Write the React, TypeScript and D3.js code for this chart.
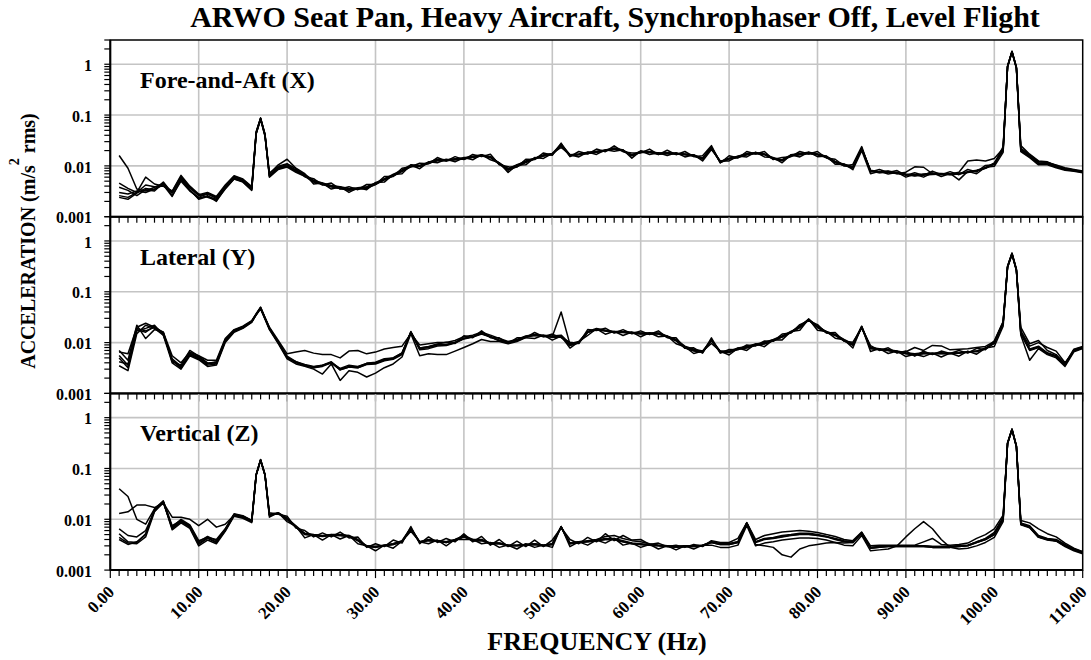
import React from "react";
import * as d3 from "d3";

// Frequency grid (Hz) shared by all traces
const FREQ_HZ = [
  1, 2, 3, 4, 5, 6, 7, 8, 9, 10, 11, 12, 13, 14, 15, 16, 16.5, 17, 17.5,
  18, 19, 20, 21, 22, 23, 24, 25, 26, 27, 28, 29, 30, 31, 32, 33, 34, 35, 36, 37,
  38, 39, 40, 41, 42, 43, 44, 45, 46, 47, 48, 49, 50, 51, 52, 53, 54, 55, 56, 57,
  58, 59, 60, 61, 62, 63, 64, 65, 66, 67, 68, 69, 70, 71, 72, 73, 74, 75, 76, 77,
  78, 79, 80, 81, 82, 83, 84, 85, 86, 87, 88, 89, 90, 91, 92, 93, 94, 95, 96, 97,
  98, 99, 100, 101, 101.5, 102, 102.5, 103, 104, 105, 106, 107, 108, 109, 110,
];

// Values in units of 0.001 m/s^2 rms
const UNIT = 0.001;

const foreAft1 = [16,9,3.5,3.2,3.8,4.5,3.0,5.8,3.7,2.6, 2.8,2.3,3.9,6.0,5.2,3.6, 46,88,42, 6.2,9.5,10.5,8.2,6.8,5.2,4.6,4.1,3.9,3.6, 3.7,3.9,4.6,5.6,6.8,8.3,10.5,10.2,11.8,13.5, 13.2,13.8,14.5,15.5,16.5,15.2,11.2,8.8,10.2,12.5, 14.2,16.5,17.5,27,16.5,17.2,18.5,19.5,20.5,22.5, 20.5,16.5,19.5,19.2,18,18.2,17.8,17.2,16.4,14.2, 23.5,12.2,14.2,15.5,17.5,18.2,17.2,14.4,13.2,16.5, 17.5,18.5,17.2,15.5,12.2,10.8,9.6,22.5,8.2,7.6, 7.9,7.3,6.9,6.6,6.9,7.2,7.1,6.9,7.2,7.6, 8.2,9.2,11.5,21, 920,1800,870, 21,15.5,11.5,11.2,9.8,8.7,8.2,7.6];
const foreAft2 = [2.6,2.4,3.0,6.0,4.4,4.0,3.2,6.5,4.0,2.8, 2.4,2.1,3.5,5.5,4.8,3.3, 43,82,38,
  7.0,10.5,13.5,9.0,7.0,4.4,4.6,3.5,3.9,3.0,
  3.7,3.4,4.7,4.8,6.8,7.0,10.4,8.8,12,11.5,
  13.5,12,14.6,13.2,16.6,13.2,11.5,7.4,10.4,10.5,
  14.6,14,17.6,23,16.6,15,18.7,16.8,20.8,19.5,
  20.8,14.2,19.8,16.8,18.2,16,18.2,15,16.6,12.5,
  21,12.5,12.5,15.6,15,18.7,15,14.6,11.5,16.6,
  15,18.7,15.2,15.6,10.8,10.9,8.4,20,7.0,7.8,
  6.9,7.5,6.0,6.8,6.0,7.3,6.2,7.1,5.3,7.8,
  7.0,9.4,9.8,18.5, 880,1720,830, 19,14.5,10.5,10.5,9.2,8.2,7.8,7.3];
const foreAft3 = [3.8,3.3,2.6,3.4,3.2,4.6,2.6,5.0,3.2,2.4, 2.9,2.4,4.0,6.2,5.4,3.8, 43,84,41, 6.0,8.5,9.5,7.5,6.2,4.8,4.3,3.9,3.6,3.4, 3.5,3.7,4.4,5.4,6.4,7.8,9.8,9.8,11.2,12.8, 12.8,13.2,13.8,14.8,15.8,14.8,11.5,8.8,10.5,12.2, 13.8,15.8,17,25,16.2,16.8,17.8,18.8,20,21.5, 20,16.2,19,18.8,17.2,17.8,17.2,16.8,15.8,13.8, 22.5,11.8,13.8,14.8,16.8,17.8,16.8,13.8,12.8,15.8, 16.8,17.8,16.8,15,11.8,10.2,9.4,22,8.0,7.4, 7.6,7.0,7.5,9.6,9.4,7.0,7.0,6.9,7.5,12.5, 13,12.5,14,22, 900,1760,850, 22,16,12,11.8,10,8.9,8.3,7.7];
const foreAft4 = [3.0,2.8,3.2,3.0,3.5,4.2,2.5,5.4,3.3,2.3, 2.6,2.0,3.6,5.6,4.9,3.4, 44,86,39, 6.6,9.2,10,8.2,6.5,5.0,4.4,3.9,3.6,3.3, 3.5,3.6,4.3,5.3,6.3,7.8,9.6,9.8,11.2,12.6, 12.6,13.2,13.6,14.8,15.6,14.6,10.8,8.2,9.6,11.6, 13.6,15.6,16.8,25,15.6,16.6,17.6,18.6,19.6,21.5, 19.6,15.8,18.6,18.4,17,17.6,17.2,16.6,15.6,13.6, 22.5,11.6,13.6,14.6,16.6,17.6,16.6,13.6,12.6,15.6, 16.6,17.6,16.6,14.6,11.6,10.2,9.2,21.5,7.8,7.3, 7.6,7.1,6.7,6.3,6.6,6.8,6.9,6.7,6.9,7.4, 8.0,9.0,11,24, 890,1780,860, 25,17,12.5,12,10.2,8.8,8.2,7.6];
const foreAft5 = [4.6,3.6,3.0,4.2,3.9,4.0,3.1,6.2,3.8,2.7, 3.0,2.5,4.2,6.4,5.5,3.9, 47,87,42,
  7.2,9.8,11,8.8,6.1,5.6,4.2,4.6,3.5,3.9,
  3.4,4.3,4.3,6.2,6.2,9.0,9.6,11.3,11,14.6,
  12.4,15.2,13.3,16.8,15.2,17,10.5,9.6,9.5,13.5,
  13.3,18,16.2,28,15.2,19.2,17.1,21.4,19,24.8,
  19,18,18,21.4,16.6,20.3,16.6,19.2,15.2,15.8,
  25,11.4,15.8,14.3,19.2,17.1,19.2,13.3,14.7,15.2,
  19.2,17.1,19.2,14.3,13.5,10,10.7,24,7.6,8.5,
  7.4,8.1,6.5,7.3,6.5,7.9,6.7,7.7,6.7,8.5,
  7.6,10.2,10.5,22, 910,1790,880, 22,16.5,12.2,11.6,10.4,9.2,8.5,7.9];
const foreAft6 = [2.4,2.2,2.9,3.6,3.4,4.8,2.9,5.6,3.4,2.2, 2.5,2.2,3.7,5.7,5.1,3.5, 45,85,40, 6.4,8.8,9.8,7.8,6.4,4.9,4.4,4.0,3.7,3.4, 3.6,3.8,4.5,5.5,6.5,8.0,10,10,11.5,13, 13,13.5,14,15,16,15,11,8.5,10,12, 14,16,17,26,16,17,18,19,20,22, 20,16,19,19,17.5,18,17.5,17,16,14, 23,12,14,15,17,18,17,14,13,16, 17,18,17,15,12,10.5,9.5,22,8,7.5, 7.8,7.2,6.8,6.5,6.8,7,7,6.8,7,7.5, 8,9,11,20, 900,1750,850, 20,15,11,11,9.5,8.5,8,7.5];

const lateral1 = [6.5,6.0,20,24,20,16,5.5,4.0,6.5,5.5, 4.5,4.5,12,18,21,27, 37,50,31, 20,11,6.0,6.5,7.0,6.2,5.8,5.8,5.0,6.8, 7.0,6.0,6.5,7.5,8.0,8.5,15,9.0,9.5,10, 10,11,13,14,16,14,12,10.5,11.5,13.5, 14.5,14,13.5,14,9.5,10.5,16.5,19,17.5,16.5, 16.5,16,15.5,15.5,15.5,13.5,11.5,8.5,7.4,6.8, 11.5,6.8,6.8,7.8,8.4,9.4,10,11.5,13.5,16.5, 21,29,21,16.5,14.5,11.5,9.4,21,8,7.6, 7.2,6.8,6.3,6.0,6.3,6.2,6.3,6.2,6.3,6.5, 6.8,7.8,10,25, 320,580,280, 16,7.5,8.5,6.3,5.5,3.8,7.2,8.2];
const lateral2 = [3.5,2.8,15,22,19,14,4.0,3.0,5.5,4.6, 3.4,3.6,10,16,19,25, 35,46,29,
  18,9.5,4.8,3.8,3.4,3.0,2.4,3.8,1.8,2.8,
  2.6,2.1,2.5,3.2,3.8,5.2,15,5.5,6.0,5.8,
  5.8,6.8,8,9.5,11.5,10.5,10.5,9.5,10.5,12.5,
  12,14,11.2,13.5,7.8,10.4,13.8,18.7,14.6,16.6,
  13.8,16.1,13,15.6,13,13.5,9.5,8.3,6.1,6.8,
  9.6,6.8,5.7,7.8,7,9.4,8.3,11.4,11.3,16.6,
  17.5,29,17.5,16.6,12.2,11.4,7.8,20.8,6.7,7.6,
  6.1,6.8,5.3,5.9,5.3,6.2,5.2,6.2,5.4,6.8,
  5.9,7.8,8.4,21, 300,540,260, 14,4.5,7.6,5.8,5.0,3.4,6.6,7.6];
const lateral3 = [5.0,3.2,18,16,21,15,4.4,3.3,6.2,5.2, 3.8,4.1,11,17,20,26, 36,48,30, 19,10,5.0,4.2,3.6,3.3,3.6,4.2,3.0,3.4, 3.3,3.9,4.0,4.6,5.0,6.2,16,7.8,8.2,9.2, 9.2,10.2,12.2,13.2,15.2,13.2,11.2,10.2,11.2,13.2, 14.2,13.7,13.2,40,9.2,10.2,16.2,18.2,17.2,16.2, 16.2,15.7,15.2,15.2,15.2,13.2,11.2,8.2,7.1,6.6, 11.2,6.6,6.6,7.6,8.2,9.2,9.8,11.2,13.2,16.2, 20.5,28.5,20.5,16.2,14.2,11.2,9.2,20.5,7.9,7.4, 7.1,6.6,6.1,5.8,6.1,6.1,6.1,6.1,6.3,6.6, 6.6,7.6,9.8,24, 310,560,270, 15,7.2,8.1,6.1,5.4,3.6,7.0,8.0];
const lateral4 = [4.2,3.8,17,19,22,14,4.8,3.4,5.8,4.8, 3.6,3.8,10.5,16.5,19.5,25.5, 35,47,30, 18.5,10,5.2,4.0,3.5,3.2,3.4,4.0,2.9,3.3, 3.2,3.7,3.8,4.4,4.7,5.8,16,7.2,7.6,8.6, 8.8,9.8,11.8,12.8,14.8,12.8,10.8,9.8,10.8,12.8, 13.8,13.2,12.8,12.8,8.8,9.8,15.8,17.8,16.8,15.8, 15.8,15.2,14.8,14.8,14.8,12.8,10.8,7.8,6.8,6.4, 10.8,6.4,6.4,7.4,7.8,8.8,9.4,10.8,12.8,15.8, 19.8,27.5,19.8,15.8,13.8,10.8,8.8,19.8,7.6,7.2, 7.0,6.6,6.6,8.0,7.0,8.8,8.6,7.2,7.4,7.6, 8.0,8.4,10.5,25, 315,570,275, 17,8.5,10,8.0,6.8,4.0,6.8,7.8];
const lateral5 = [5.6,3.6,19,17,20,15.5,4.6,3.1,6.0,5.0, 3.9,4.2,11.5,17.5,20.5,26.5, 36,49,31, 19.5,10.2,5.1,4.1,3.6,3.2,3.5,4.1,2.9,3.3, 3.2,3.8,3.9,4.5,4.9,6.0,16.5,7.6,8.0,9.0, 9.0,10,12,13,15,13,11,10,11,13, 14,13.5,13,13,9,10,16,18,17,16, 16,15.5,15,15,15,13,11,8,7,6.5, 11,6.5,6.5,7.5,8,9,9.6,11,13,16, 20,28,20,16,14,11,9,20,7.7,7.3, 7,6.5,6,5.7,6,6,6,6,6.2,6.5, 6.8,7.5,9.6,24, 311,560,270, 15,7,8,6,5.3,3.6,7,8];
const lateral6 = [7.0,4.5,22,12,18,16,4.2,3.6,7.0,5.4, 4.0,3.9,11,17,20,26, 36,48,30,
  19,10,5.4,4.2,3.7,3.4,3.6,4.0,3.1,3.6,
  3.4,3.9,4.1,4.8,5.0,6.3,16,7.8,8.4,9.4,
  10.2,9.6,13.6,12.5,17,12.5,12.4,9.6,12.4,12.5,
  15.8,13,14.7,12.5,10.2,9.6,18,17.3,19.2,15.4,
  18,14.9,17,14.4,17,12.5,12.4,7.7,7.9,6.2,
  12.4,6.2,7.3,7.2,9,8.6,10.8,10.6,14.7,15.4,
  22.6,27,22.6,15.4,15.8,10.6,10.2,19.2,8.7,7,
  7.9,6.2,6.8,5.4,6.8,5.8,6.8,6.1,7,6.2,
  7.7,7.2,10.8,26, 305,550,265, 20,9.5,11,7.0,5.8,3.8,7.4,8.4];

const vertical1 = [40,28,10,8,16,23,7.5,9.5,7.5,3.6, 4.6,3.8,6.4,12.5,11.5,9.5, 76,150,76, 12.5,13.5,10.5,7.4,5.3,5.0,4.8,5.0,5.0,4.8, 4.0,3.0,2.9,3.1,3.3,3.8,6.8,3.6,4.0,3.8, 3.6,4.0,4.8,4.0,4.0,3.4,3.4,3.1,3.1,3.2, 3.3,3.1,3.3,7.2,3.4,3.6,3.8,4.0,4.6,4.8, 4.2,3.8,3.6,3.3,3.1,3.0,2.9,3.0,3.0,3.1, 3.6,3.3,3.3,3.6,8.5,3.6,4.2,4.4,4.8,5.0, 5.3,5.3,5.0,4.6,4.2,3.8,3.6,5.5,2.8,2.9, 3.0,3.0,3.0,3.0,3.0,2.9,2.9,2.9,3.0,3.1, 3.6,4.2,5.5,11, 320,600,280, 8.5,7.5,4.8,4.2,4.0,3.2,2.6,2.3];
const vertical2 = [13,14,19,19,17,21,11,11,10,7.5, 10,7.0,8.0,12,11,9.2, 75,148,75, 12,13,10,7.0,5.2,4.9,4.7,4.9,4.9,4.7, 3.9,3.0,2.9,3.1,3.3,3.7,6.6,3.6,3.9,3.8, 3.6,3.9,4.6,3.9,3.9,3.4,3.4,3.1,3.1,3.2, 3.3,3.1,3.3,7.1,3.4,3.6,3.7,3.9,4.2,4.2, 3.8,3.4,3.3,3.2,3.1,3.0,2.9,3.0,3.0,3.1, 3.6,3.3,3.3,3.6,8.4,3.6,4.1,4.3,4.6,4.9, 5.1,5.1,4.9,4.6,4.1,3.7,3.6,5.4,2.8,2.9, 3.0,3.0,3.0,3.0,3.0,2.9,2.9,2.9,3.0,3.1, 3.6,4.1,5.2,10.5, 315,590,275, 8.2,7.2,4.6,4.1,3.9,3.1,2.5,2.2];
const vertical3 = [4.4,3.4,3.3,4.5,14,22,6.2,8.5,6.6,3.0, 3.9,3.3,5.8,11.5,10.5,8.6, 73,145,73,
  11,13.5,9,7.3,4.3,5.0,3.9,5.0,4.1,4.8,
  3.3,3.0,2.4,3.1,2.7,3.7,5.8,3.6,3.3,3.9,
  3.0,4.0,4.0,4.0,3.3,3.5,2.8,3.1,2.6,3.3,
  2.8,3.1,2.8,7.2,2.9,3.6,3.1,3.9,3.4,4.2,
  3.1,3.4,2.8,3.2,2.6,3.0,2.5,3.0,2.6,3.1,
  3.1,2.8,2.8,3.1,7.6,3.0,3.4,3.6,3.9,4.1,
  4.3,4.3,4.2,3.9,3.5,3.1,3.0,4.8,2.4,2.5,
  2.6,3.0,4.5,6.5,9.0,6.5,4.0,2.8,2.6,2.7,
  3.0,3.5,4.4,9.0, 305,570,265, 7.8,6.8,4.4,3.9,3.7,2.9,2.4,2.1];
const vertical4 = [5.2,3.6,3.5,5.2,15.5,22.5,6.8,9.2,7.2,3.4, 4.3,3.6,6.1,12.2,11.2,9.1, 74,146,74, 12.2,13.2,10.2,7.1,5.1,4.9,4.7,4.9,4.8,4.6, 3.8,2.9,2.8,3.0,3.2,3.6,6.5,3.5,3.8,3.7, 3.5,3.8,4.5,3.8,3.8,3.3,3.3,3.0,3.0,3.1, 3.2,3.0,3.2,7.0,3.3,3.5,3.6,3.8,4.0,4.0, 3.6,3.3,3.2,3.1,3.0,2.9,2.8,2.9,2.9,3.0, 3.5,3.2,3.2,3.5,8.3,3.2,3.0,2.8,2.0,1.8, 2.6,3.0,3.2,3.4,3.5,3.4,3.5,5.3,2.7,2.8, 2.9,2.9,2.9,2.9,2.9,2.8,2.8,2.8,2.9,3.0, 3.5,4.0,5.0,10, 311,580,270, 8.0,7.0,4.5,4.0,3.8,3.0,2.5,2.2];
const vertical5 = [6.5,4.8,4.5,6.0,14.5,21,7.0,10,7.8,3.8, 4.4,4.0,6.5,12.8,11.8,9.5, 75,147,75,
  13.5,12.5,11.5,6.7,6.0,4.5,5.4,4.5,5.6,4.3,
  4.5,2.8,3.3,2.9,3.9,3.4,7.2,3.3,4.5,3.5,
  4.2,3.6,5.2,3.6,4.6,3.1,4.0,2.9,3.7,2.9,
  3.9,2.9,3.9,6.8,4.0,3.3,4.4,3.6,5.2,3.8,
  4.8,3.9,4.0,3.2,3.4,2.9,3.1,2.8,3.2,2.9,
  3.8,3.5,3.5,4.2,8.6,4.0,4.8,5.2,5.6,5.8,
  6.0,5.8,5.5,5.0,4.6,4.0,3.8,5.6,3.0,3.1,
  3.1,3.1,3.1,3.1,3.6,4.2,3.2,3.1,3.2,3.4,
  4.2,5.0,6.5,12, 318,595,278, 9.5,8.5,6.5,5.2,4.5,3.4,2.7,2.3];
const vertical6 = [4.0,3.2,3.6,5.0,15,22,6.5,9.0,7.0,3.2, 4.2,3.5,6.0,12,11,9, 74,146,74, 12,13,10,7,5,4.8,4.6,4.8,4.8,4.6, 3.8,2.9,2.8,3.0,3.2,3.6,6.5,3.5,3.8,3.7, 3.5,3.8,4.5,3.8,3.8,3.3,3.3,3.0,3.0,3.1, 3.2,3.0,3.2,7.0,3.3,3.5,3.6,3.8,4.0,4.0, 3.6,3.3,3.2,3.1,3.0,2.9,2.8,2.9,2.9,3.0, 3.5,3.2,3.2,3.5,8.3,3.5,4.0,4.2,4.5,4.8, 5.0,5.0,4.8,4.5,4.0,3.6,3.5,5.3,2.7,2.8, 2.9,2.9,2.9,2.9,2.9,2.8,2.8,2.8,2.9,3.0, 3.5,4.0,5.0,10, 311,580,270, 8,7,4.5,4,3.8,3,2.5,2.2];

const PANEL_TITLES = ["Fore-and-Aft (X)", "Lateral (Y)", "Vertical (Z)"];
const PANEL_SERIES = [
  [foreAft1, foreAft2, foreAft3, foreAft4, foreAft5, foreAft6],
  [lateral1, lateral2, lateral3, lateral4, lateral5, lateral6],
  [vertical1, vertical2, vertical3, vertical4, vertical5, vertical6],
];
const Y_LABELS = [0.001, 0.01, 0.1, 1];
const X_DOMAIN = [0, 110];
const Y_DOMAIN = [0.001, 3];

const TITLE = "ARWO Seat Pan, Heavy Aircraft, Synchrophaser Off, Level Flight";
const X_TITLE = "FREQUENCY (Hz)";

const W = 1091;
const H = 660;
const LEFT = 110.3;
const RIGHT = 1082.7;
const TOP = 40;
const PANEL_H = 176.7;
const FONT = "'Liberation Serif', 'Times New Roman', Times, serif";

export default function App() {
  const x = d3.scaleLinear().domain(X_DOMAIN).range([LEFT, RIGHT]);
  const minorX = x.ticks(110);
  const majorX = x.ticks(11);
  const fmtX = d3.format(".2f");

  return (
    <svg
      width={W}
      height={H}
      style={{ position: "absolute", left: 0, top: 0, background: "#fff" }}
      fontFamily={FONT}
      fontWeight="bold"
    >
      <rect x={0} y={0} width={W} height={H} fill="#fff" />
      <text x={615} y={27} textAnchor="middle" fontSize={30}>
        {TITLE}
      </text>
      {PANEL_SERIES.map((series, pi) => {
        const top = TOP + pi * PANEL_H;
        const bottom = top + PANEL_H;
        const y = d3.scaleLog().domain(Y_DOMAIN).range([bottom, top]);
        const yTicks = y.ticks();
        const line = d3
          .line<number>()
          .x((_, i) => x(FREQ_HZ[i]))
          .y((v) => y(v * UNIT))
          .curve(d3.curveLinear);
        return (
          <g key={pi}>
            {majorX
              .filter((t) => t > X_DOMAIN[0] && t < X_DOMAIN[1])
              .map((t) => (
                <line key={"gx" + t} x1={x(t)} x2={x(t)} y1={top} y2={bottom} stroke="#c4c4c4" strokeWidth={1.6} />
              ))}
            {Y_LABELS.filter((v) => v > Y_DOMAIN[0]).map((v) => (
              <line key={"gy" + v} x1={LEFT} x2={RIGHT} y1={y(v)} y2={y(v)} stroke="#c4c4c4" strokeWidth={1.6} />
            ))}
            <text x={140} y={top + 48} fontSize={24}>
              {PANEL_TITLES[pi]}
            </text>
            {series.map((s, si) => (
              <path
                key={si}
                d={line(s) || ""}
                fill="none"
                stroke="#000"
                strokeWidth={1.5}
                strokeLinejoin="round"
              />
            ))}
            <rect x={LEFT} y={top} width={RIGHT - LEFT} height={PANEL_H} fill="none" stroke="#000" strokeWidth={1.5} />
            <line x1={LEFT} x2={LEFT} y1={top} y2={bottom} stroke="#000" strokeWidth={2} />
            <line x1={LEFT} x2={RIGHT} y1={bottom} y2={bottom} stroke="#000" strokeWidth={2} />
            {yTicks.map((t, i) => (
              <line key={"yt" + i} x1={LEFT - 6} x2={LEFT} y1={y(t)} y2={y(t)} stroke="#000" strokeWidth={1.2} />
            ))}
            {Y_LABELS.map((v) => (
              <text key={"yl" + v} x={92} y={y(v)} dy="0.42em" textAnchor="end" fontSize={16}>
                {String(v)}
              </text>
            ))}
            {minorX.map((t) => {
              const major = t % 10 === 0;
              return (
                <line
                  key={"xt" + t}
                  x1={x(t)}
                  x2={x(t)}
                  y1={bottom}
                  y2={bottom + (major ? 8 : 6)}
                  stroke="#000"
                  strokeWidth={1.2}
                />
              );
            })}
          </g>
        );
      })}
      {majorX.map((t) => (
        <text
          key={"xl" + t}
          transform={`translate(${x(t) + 5},${593}) rotate(-45)`}
          textAnchor="end"
          fontSize={17}
        >
          {fmtX(t)}
        </text>
      ))}
      <text x={597} y={650} textAnchor="middle" fontSize={26}>
        {X_TITLE}
      </text>
      <text transform="translate(35,241) rotate(-90)" textAnchor="middle" fontSize={20}>
        <tspan>ACCELERATION (m/s</tspan>
        <tspan dy={-16} fontSize={14}>2</tspan>
        <tspan dy={16}> rms)</tspan>
      </text>
    </svg>
  );
}
